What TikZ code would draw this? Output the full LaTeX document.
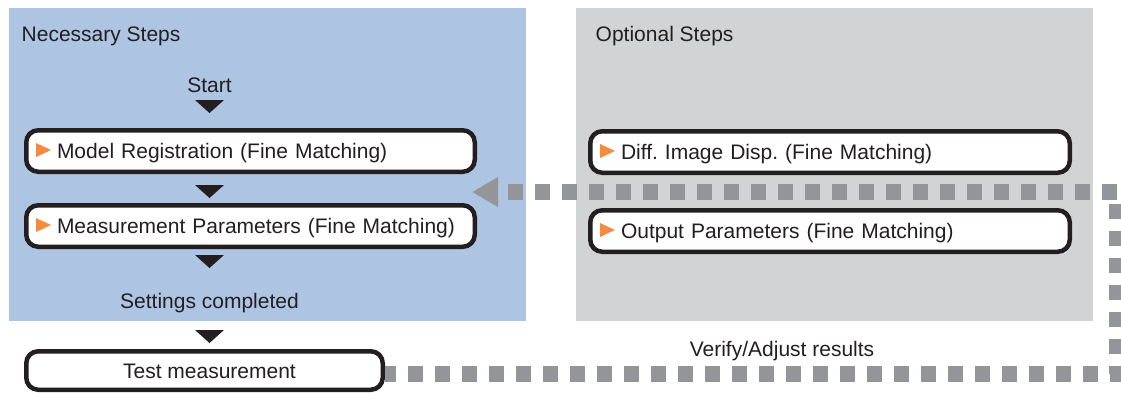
\documentclass[tikz,border=0pt]{standalone}
\usepackage{fontspec}
\setmainfont{Liberation Sans}
\usetikzlibrary{arrows.meta, positioning}
\definecolor{necblue}{HTML}{ADC4E3}
\definecolor{optgray}{HTML}{D1D3D4}
\definecolor{dotgray}{HTML}{939598}
\definecolor{stepmark}{HTML}{F68B3F}
\definecolor{inkdark}{HTML}{231F20}

\begin{document}
\begin{tikzpicture}[
    x=1pt, y=-1pt,
    font=\fontsize{21}{25}\selectfont\frenchspacing,
    text=inkdark,
    flowtext/.style={inner sep=0pt},
    stepbox/.style={
        rectangle, rounded corners=12pt,
        draw=inkdark, fill=white, line width=4.5pt,
        text width=387pt, align=left, inner xsep=30.75pt, inner ysep=0pt,
        minimum height=41.5pt, text height=15pt, text depth=0pt, anchor=west
    },
    testbox/.style={
        rectangle, rounded corners=12pt,
        draw=inkdark, fill=white, line width=4.5pt, inner sep=0pt,
        minimum width=356.5pt, minimum height=38.5pt,
        text height=15pt, text depth=0pt, anchor=west
    },
    feedback/.style={
        draw=dotgray, line width=16pt,
        dash pattern=on 15pt off 12pt, dash phase=4pt,
        -{Triangle[length=26pt, width=28pt]}
    }
]
\useasboundingbox (0,0) rectangle (1121,392);
% panels
\fill[necblue] (9,8) rectangle (526,321);
\fill[optgray] (576,8) rectangle (1093,321);
\node[flowtext, anchor=base west] (necT) at (21.5,41) {Necessary Steps};
\node[flowtext, anchor=base west] (optT) at (595.5,41) {Optional Steps};

% necessary steps
\node[flowtext, anchor=base] (start) at (209.5,92) {Start};
\node[stepbox] (model) at (24,151) {\mbox{Model Registration (Fine Matching)}};
\node[stepbox, below=29pt of model] (measure) {\mbox{Measurement Parameters (Fine Matching)}};
\node[flowtext, anchor=base] (done) at (209.5,308) {Settings completed};
\node[testbox] (test) at (24,370.5) {\hspace*{10pt}Test measurement};

% optional steps
\node[stepbox, text width=418pt] (diff) at (588,152) {\mbox{Diff. Image Disp. (Fine Matching)}};
\node[stepbox, text width=418pt, below=33pt of diff] (output) {\mbox{Output Parameters (Fine Matching)}};

\foreach \b in {model,measure,diff,output}
    \fill[stepmark] ([xshift=12pt,yshift=8pt]\b.west) -- ++(0,14) -- ++(15,-7) -- cycle;
\foreach \t in {100,185,255,330}
    \fill[inkdark] (195,\t) -- (224,\t) -- (209.5,\t+13) -- cycle;

% verify loop
\coordinate (turn) at (1117,373.5);
\coordinate (back) at (472,192);
\draw[feedback] (test.east |- turn) -- (turn) -- (turn |- back) -- (back);
\node[flowtext, anchor=base] (verify) at (782,356) {Verify/Adjust results};
\end{tikzpicture}
\end{document}
